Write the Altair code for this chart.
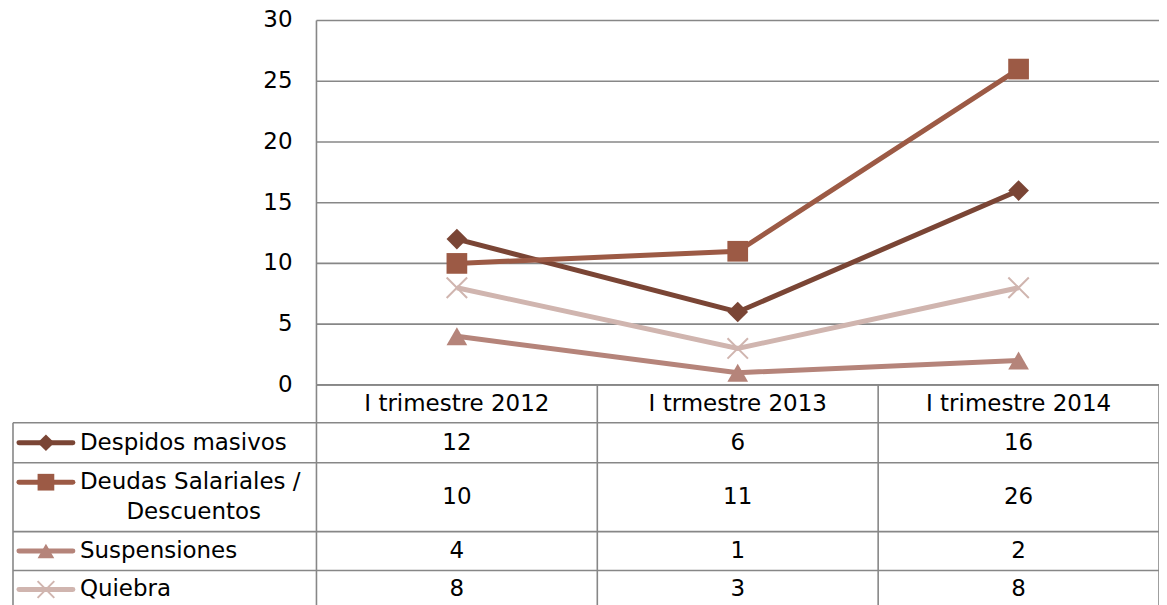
import altair as alt
import pandas as pd
import numpy as np

categories = ["I trimestre 2012", "I trmestre 2013", "I trimestre 2014"]
series = ["Despidos masivos", "Deudas Salariales / Descuentos", "Suspensiones", "Quiebra"]
label_line1 = ["Despidos masivos", "Deudas Salariales /", "Suspensiones", "Quiebra"]
label_line2 = ["", "Descuentos", "", ""]
despidos = [12, 6, 16]
deudas = [10, 11, 26]
suspensiones = [4, 1, 2]
quiebra = [8, 3, 8]
y_ticks = [0, 5, 10, 15, 20, 25, 30]

colors = ["#7a4535", "#9c5a45", "#b5847a", "#d0b5af"]
shapes = ["diamond", "square", "triangle-up", "M-1,-1L1,1M-1,1L1,-1"]

# layout (pixels) of the data table rows: header + one per series
row_heights = [38, 40, 69, 39, 38]
label_offsets = [0, -15, 0, 0]

FONT = "DejaVu Sans"
FS = 23
GRID = "#878787"

W, H = 1148, 587
PLOT_LEFT, PLOT_BOTTOM = 304, 365

bounds = np.cumsum([0] + row_heights)
mids = (bounds[:-1] + bounds[1:]) / 2

rows = []
for si, (s, vals) in enumerate(zip(series, [despidos, deudas, suspensiones, quiebra])):
    for ci, (c, v) in enumerate(zip(categories, vals)):
        rows.append({"series": s, "cat": c, "idx": ci, "value": v,
                     "rowmid": mids[si + 1], "cross": si == 3})
df = pd.DataFrame(rows)

leg = pd.DataFrame({
    "series": series,
    "l1": label_line1,
    "l2": label_line2,
    "ly": [mids[i + 1] + label_offsets[i] for i in range(len(series))],
    "ly2": [mids[i + 1] - label_offsets[i] for i in range(len(series))],
    "cross": [False, False, False, True],
})

hdr = pd.DataFrame({"cat": categories, "idx": list(range(len(categories))), "y": mids[0]})
ticks = pd.DataFrame({"t": y_ticks})

xs = alt.Scale(domain=[-0.5, len(categories) - 0.5], range=[PLOT_LEFT, W], nice=False, zero=False)
ys = alt.Scale(domain=[0, 30], range=[PLOT_BOTTOM, 0], nice=False, zero=False)
ts = alt.Scale(domain=[0, H - PLOT_BOTTOM], range=[PLOT_BOTTOM, H], nice=False, zero=False)
cs = alt.Scale(domain=series, range=colors)
ss = alt.Scale(domain=series, range=shapes)

X = lambda f: alt.X(f, scale=xs, axis=None)
Yv = lambda f: alt.Y(f, scale=ys, axis=None)
Yt = lambda f: alt.Y(f, scale=ts, axis=None)
C = alt.Color("series:N", scale=cs, legend=None)

grid = alt.Chart(ticks).mark_rule(color=GRID, strokeWidth=1.6).encode(
    x=alt.value(PLOT_LEFT), x2=alt.value(W), y=Yv("t:Q"))

tick_labels = alt.Chart(ticks).mark_text(
    font=FONT, fontSize=FS, align="right", baseline="middle", color="#000").encode(
    x=alt.value(280), y=Yv("t:Q"), text="t:Q")

plot_axis = alt.Chart(pd.DataFrame({"a": [0], "b": [30], "e": [-0.5]})).mark_rule(
    color=GRID, strokeWidth=1.6).encode(x=X("e:Q"), y=Yv("a:Q"), y2="b:Q")

lines = alt.Chart(df).mark_line(strokeWidth=5).encode(
    x=X("idx:Q"), y=Yv("value:Q"), color=C, detail="series:N")

pts = alt.Chart(df).transform_filter("!datum.cross").mark_point(
    filled=True, size=430, opacity=1).encode(
    x=X("idx:Q"), y=Yv("value:Q"), color=C, shape=alt.Shape("series:N", scale=ss, legend=None))

pts_x = alt.Chart(df).transform_filter("datum.cross").mark_point(
    filled=False, size=420, opacity=1, strokeWidth=2).encode(
    x=X("idx:Q"), y=Yv("value:Q"), color=C, shape=alt.Shape("series:N", scale=ss, legend=None))

# table grid
hlines = pd.DataFrame({"y": bounds[1:].tolist()})
table_h = alt.Chart(hlines).mark_rule(color=GRID, strokeWidth=1.6).encode(
    x=alt.value(0), x2=alt.value(W), y=Yt("y:Q"))
table_top = alt.Chart(pd.DataFrame({"y": [0]})).mark_rule(color=GRID, strokeWidth=1.6).encode(
    x=alt.value(PLOT_LEFT), x2=alt.value(W), y=Yt("y:Q"))
vl = pd.DataFrame({"e": [i - 0.5 for i in range(len(categories) + 1)], "a": 0, "b": bounds[-1]})
table_v = alt.Chart(vl).mark_rule(color=GRID, strokeWidth=1.6).encode(
    x=X("e:Q"), y=Yt("a:Q"), y2="b:Q")
table_left = alt.Chart(pd.DataFrame({"a": [bounds[1]], "b": [bounds[-1]]})).mark_rule(
    color=GRID, strokeWidth=1.6).encode(x=alt.value(0), y=Yt("a:Q"), y2="b:Q")

hdr_text = alt.Chart(hdr).mark_text(font=FONT, fontSize=FS, baseline="middle", color="#000").encode(
    x=X("idx:Q"), y=Yt("y:Q"), text="cat:N")

val_text = alt.Chart(df).mark_text(font=FONT, fontSize=FS, baseline="middle", color="#000").encode(
    x=X("idx:Q"), y=Yt("rowmid:Q"), text="value:Q")

sw = alt.Chart(leg).mark_rule(strokeWidth=5, strokeCap="round").encode(
    x=alt.value(6), x2=alt.value(60), y=Yt("ly:Q"), color=C)
sw_pts = alt.Chart(leg).transform_filter("!datum.cross").mark_point(
    filled=True, size=280, opacity=1).encode(
    x=alt.value(33), y=Yt("ly:Q"), color=C, shape=alt.Shape("series:N", scale=ss, legend=None))
sw_x = alt.Chart(leg).transform_filter("datum.cross").mark_point(
    filled=False, size=280, opacity=1, strokeWidth=2).encode(
    x=alt.value(33), y=Yt("ly:Q"), color=C, shape=alt.Shape("series:N", scale=ss, legend=None))

lab1 = alt.Chart(leg).mark_text(font=FONT, fontSize=FS, align="left", baseline="middle", color="#000").encode(
    x=alt.value(67), y=Yt("ly:Q"), text="l1:N")
lab2 = alt.Chart(leg).transform_filter("datum.l2 != ''").mark_text(
    font=FONT, fontSize=FS, align="center", baseline="middle", color="#000").encode(
    x=alt.value(181), y=Yt("ly2:Q"), text="l2:N")

chart = alt.layer(
    grid, tick_labels, plot_axis, table_top, table_h, table_v, table_left,
    lines, pts, pts_x, hdr_text, val_text, sw, sw_pts, sw_x, lab1, lab2
).resolve_scale(y="independent").properties(
    width=W, height=H,
    autosize=alt.AutoSizeParams(type="none"),
    padding={"left": 5, "top": 12, "right": 0, "bottom": 0},
).configure_view(stroke=None)

chart.save("out.html", embed_options={"renderer": "svg", "actions": False})
